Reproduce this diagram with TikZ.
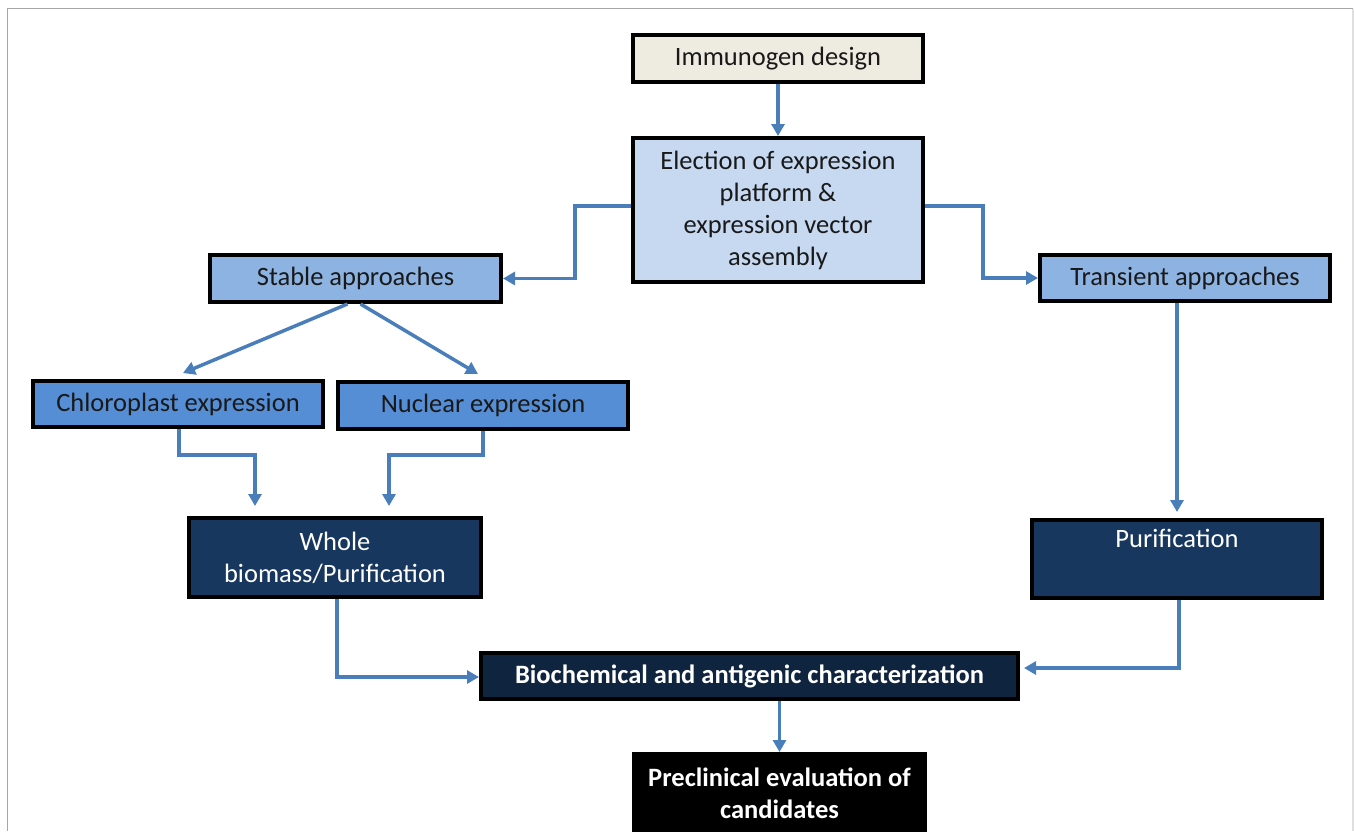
\documentclass[tikz,border=0pt]{standalone}
\usepackage{fontspec}
\setmainfont{Carlito}
\usetikzlibrary{arrows.meta}
\definecolor{beige}{HTML}{EEECE1}
\definecolor{paleblue}{HTML}{C6D9F1}
\definecolor{midblue}{HTML}{8DB3E2}
\definecolor{strongblue}{HTML}{558ED5}
\definecolor{navy}{HTML}{17375E}
\definecolor{darknavy}{HTML}{0F243E}
\definecolor{arrowblue}{HTML}{4A7EBB}
\tikzset{
  box/.style={draw=black, line width=4pt, inner sep=0pt, align=center,
    font=\fontsize{26.5}{32}\selectfont, text=black!90},
  darkbox/.style={box, text=white},
  conn/.style={draw=arrowblue, line width=3.5pt, -{Triangle[length=12pt,width=13pt]}},
}
\begin{document}
\begin{tikzpicture}[x=1pt,y=-1pt]
\useasboundingbox (0,0) rectangle (1354,831);
\draw[gray!70, line width=1.5pt] (7.5,831) -- (7.5,8.5) -- (1353,8.5);
\draw[gray!25, line width=1.5pt] (1353,8.5) -- (1353,831);

\node[box, fill=beige, minimum width=290pt, minimum height=47pt] (imm) at (778,58.5) {Immunogen design};
\node[box, fill=paleblue, minimum width=290pt, minimum height=144pt] (elec) at (778,210)
  {Election of expression\\platform \&\\expression vector\\assembly};
\node[box, fill=midblue, minimum width=291pt, minimum height=47pt] (stable) at (355.5,278.5) {Stable approaches};
\node[box, fill=midblue, minimum width=290pt, minimum height=46pt] (trans) at (1185,278) {Transient approaches};
\node[box, fill=strongblue, minimum width=290pt, minimum height=46pt] (chloro) at (178,404) {Chloroplast expression};
\node[box, fill=strongblue, minimum width=290pt, minimum height=47pt] (nuc) at (483,405.5) {Nuclear expression};
\node[darkbox, fill=navy, minimum width=292pt, minimum height=79pt] (whole) at (335,557.5) {Whole\\biomass/Purification};
\node[darkbox, fill=navy, minimum width=290pt, minimum height=78pt] (puri) at (1177,559) {Purification\\\strut};
\node[darkbox, fill=darknavy, minimum width=537pt, minimum height=46pt, font=\fontsize{26.5}{32}\selectfont\bfseries] (bio) at (749.5,676)
  {Biochemical and antigenic characterization};
\node[darkbox, fill=black, minimum width=291pt, minimum height=78pt, font=\fontsize{26.5}{32}\selectfont\bfseries] (pre) at (779.5,793)
  {Preclinical evaluation of\\candidates};

\coordinate (cA) at ([xshift=-80pt,yshift=10pt]whole.north);
\coordinate (cB) at ([xshift=54pt,yshift=10pt]whole.north);

\draw[conn] (imm.south) -- (elec.north);
\draw[conn] ([yshift=4pt]elec.west) -- ++(-56,0) |- (stable.east);
\draw[conn] ([yshift=4pt]elec.east) -- ++(58,0) |- (trans.west);
\draw[conn] ([xshift=-8pt]stable.south) -- ([xshift=5pt,yshift=6pt]chloro.north);
\draw[conn] ([xshift=5pt]stable.south) -- ([xshift=-5pt,yshift=6pt]nuc.north);
\draw[conn] ([xshift=1pt]chloro.south) -- ++(0,26) -| (cA);
\draw[conn] (nuc.south) -- ++(0,24) -| (cB);
\draw[conn] ([xshift=-8pt]trans.south) -- ([yshift=6pt]puri.north);
\draw[conn] ([xshift=2pt]puri.south) |- ([xshift=4pt,yshift=8pt]bio.east);
\draw[conn] ([xshift=2pt]whole.south) |- ([yshift=-1pt]bio.west);
\draw[conn] (pre.north |- bio.south) -- (pre.north);
\end{tikzpicture}
\end{document}
